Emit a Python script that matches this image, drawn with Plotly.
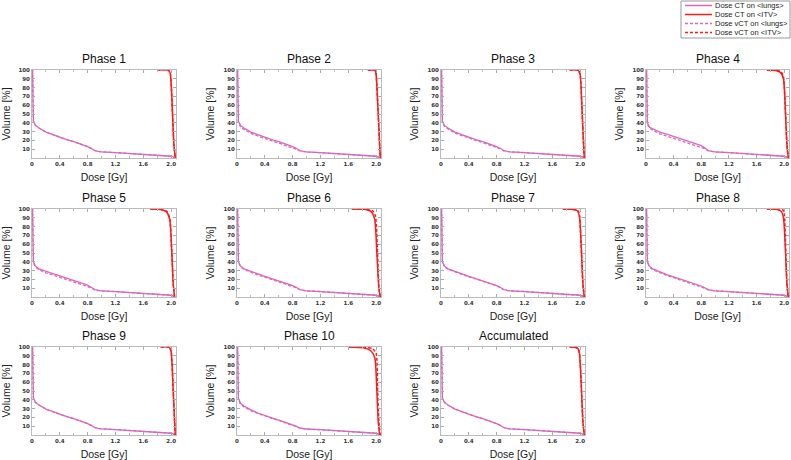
import plotly.graph_objects as go

# ---------------- data ----------------
PANEL_TITLES = ["Phase 1", "Phase 2", "Phase 3", "Phase 4", "Phase 5", "Phase 6",
                "Phase 7", "Phase 8", "Phase 9", "Phase 10", "Accumulated"]
SERIES_NAMES = ["Dose CT on <lungs>", "Dose CT on <ITV>", "Dose vCT on <lungs>", "Dose vCT on <ITV>"]

LUNG_DOSE = [0, 0.008, 0.02, 0.05, 0.1, 0.2, 0.3, 0.4, 0.5, 0.6, 0.7, 0.8,
             0.85, 0.9, 0.95, 1.0, 1.2, 1.4, 1.6, 1.8, 2.0, 2.05]

LUNG_CT_VOL = [
    [100, 100, 42, 37, 34, 29.5, 26.5, 23.5, 21, 18.5, 16, 13, 11, 8.5, 7.5, 7, 6.2, 5.3, 4.5, 3.3, 2, 0.5],
    [100, 100, 42, 37, 34, 29.5, 26.5, 23.5, 21, 18.5, 16, 13, 11, 8.5, 7.5, 7, 6.2, 5.3, 4.5, 3.3, 2, 0.5],
    [100, 100, 42, 37, 34, 29.5, 26.5, 23.5, 21, 18.5, 16, 13, 11, 8.5, 7.5, 7, 6.2, 5.3, 4.5, 3.3, 2, 0.5],
    [100, 100, 40, 35, 33, 29.5, 27, 24.5, 22, 19.5, 17, 14, 11.5, 8.5, 7.5, 7, 6.2, 5.3, 4.5, 3.3, 2, 0.5],
    [100, 100, 40, 35, 32, 29, 26.5, 24, 21.5, 19, 16.5, 13.5, 11, 8.5, 7.5, 7, 6.2, 5.3, 4.5, 3.3, 2, 0.5],
    [100, 100, 40, 35, 32, 29, 26, 23.5, 21, 18.5, 16, 13, 11, 8.5, 7.5, 7, 6.2, 5.3, 4.5, 3.3, 2, 0.5],
    [100, 100, 40, 35, 32, 29, 26, 23.5, 21, 18.5, 16, 13, 11, 8.5, 7.5, 7, 6.2, 5.3, 4.5, 3.3, 2, 0.5],
    [100, 100, 40, 35, 32, 28.5, 25.5, 23, 20.5, 18, 15.5, 12.5, 10.5, 8.5, 7.5, 7, 6.2, 5.3, 4.5, 3.3, 2, 0.5],
    [100, 100, 42, 37, 34, 29.5, 26.5, 23.5, 21, 18.5, 16, 13, 11, 8.5, 7.5, 7, 6.2, 5.3, 4.5, 3.3, 2, 0.5],
    [100, 100, 42, 36, 33, 28.5, 25, 22, 19.5, 17, 14.5, 12, 10, 8, 7.2, 6.8, 6, 5.2, 4.4, 3.2, 2, 0.5],
    [100, 100, 42, 37, 34, 29.5, 26.5, 23.5, 21, 18.5, 16, 13, 11, 8.5, 7.5, 7, 6.2, 5.3, 4.5, 3.3, 2, 0.5],
]

LUNG_VCT_VOL = [
    [100, 100, 42, 37, 34, 29.5, 26.5, 23.5, 21, 18.5, 16, 13, 11, 8.5, 7.5, 7, 6.2, 5.3, 4.5, 3.3, 2, 0.5],
    [100, 100, 41, 35.5, 32.5, 28, 25, 22, 19.5, 17, 14.5, 12, 10, 8, 7.2, 6.8, 6, 5.2, 4.4, 3.2, 2, 0.5],
    [100, 100, 41, 36, 33, 28.5, 25.5, 22.5, 20, 17.5, 15, 12.5, 10.5, 8.2, 7.3, 6.9, 6.1, 5.2, 4.4, 3.2, 2, 0.5],
    [100, 100, 39, 34, 31.5, 27.5, 25, 22.5, 20, 17.5, 15, 12.5, 10.5, 8.2, 7.3, 6.9, 6.1, 5.2, 4.4, 3.2, 2, 0.5],
    [100, 100, 39, 34, 31, 27.5, 25, 22.5, 20, 17.5, 15, 12.5, 10.5, 8.2, 7.3, 6.9, 6.1, 5.2, 4.4, 3.2, 2, 0.5],
    [100, 100, 40, 34.5, 31.5, 28, 25, 22.5, 20, 17.5, 15, 12.5, 10.5, 8.3, 7.4, 7, 6.2, 5.3, 4.5, 3.3, 2, 0.5],
    [100, 100, 40, 34.5, 31.5, 28.5, 25.5, 23, 20.5, 18, 15.5, 12.8, 10.8, 8.4, 7.5, 7, 6.2, 5.3, 4.5, 3.3, 2, 0.5],
    [100, 100, 39.5, 34, 31, 27.5, 24.5, 22, 19.5, 17, 14.5, 12, 10, 8.2, 7.3, 6.9, 6.1, 5.2, 4.4, 3.2, 2, 0.5],
    [100, 100, 42, 37, 34, 29.5, 26.5, 23.5, 21, 18.5, 16, 13, 11, 8.5, 7.5, 7, 6.2, 5.3, 4.5, 3.3, 2, 0.5],
    [100, 100, 41, 35, 32, 27.5, 24.5, 21.5, 19, 16.5, 14, 11.5, 9.5, 7.8, 7, 6.7, 5.9, 5.1, 4.3, 3.1, 2, 0.5],
    [100, 100, 42, 37, 34, 29.5, 26.5, 23.5, 21, 18.5, 16, 13, 11, 8.5, 7.5, 7, 6.2, 5.3, 4.5, 3.3, 2, 0.5],
]

ITV_CT_DOSE = [
    [1.80, 1.95, 1.97, 1.99, 2.02, 2.04, 2.06],
    [1.88, 1.97, 1.99, 2.00, 2.03, 2.05, 2.06],
    [1.85, 1.96, 1.98, 2.00, 2.03, 2.05, 2.06],
    [1.75, 1.88, 1.95, 1.99, 2.02, 2.04, 2.06],
    [1.70, 1.85, 1.93, 1.98, 2.01, 2.03, 2.05],
    [1.65, 1.85, 1.93, 1.98, 2.01, 2.04, 2.06],
    [1.75, 1.90, 1.96, 1.99, 2.02, 2.04, 2.06],
    [1.75, 1.90, 1.96, 1.99, 2.02, 2.04, 2.06],
    [1.85, 1.96, 1.98, 2.00, 2.03, 2.05, 2.06],
    [1.60, 1.82, 1.92, 1.98, 2.01, 2.03, 2.05],
    [1.85, 1.94, 1.97, 1.99, 2.02, 2.04, 2.06],
]
ITV_CT_VOL = [
    [100, 100, 99, 95, 50, 15, 0],
    [100, 100, 99, 95, 50, 15, 0],
    [100, 100, 99, 95, 50, 15, 0],
    [100, 99.5, 97, 90, 50, 15, 0],
    [100, 99.5, 97, 88, 50, 15, 0],
    [100, 99.5, 97, 88, 50, 10, 0],
    [100, 99.5, 98, 92, 50, 15, 0],
    [100, 99.5, 97, 90, 50, 15, 0],
    [100, 100, 99, 95, 50, 15, 0],
    [100, 99, 96, 88, 50, 15, 0],
    [100, 99.5, 98, 93, 50, 15, 0],
]
ITV_VCT_DOSE = [
    [1.80, 1.95, 1.97, 1.99, 2.02, 2.04, 2.06],
    [1.88, 1.97, 1.99, 2.00, 2.03, 2.05, 2.06],
    [1.85, 1.96, 1.98, 2.00, 2.03, 2.05, 2.06],
    [1.75, 1.90, 1.96, 1.99, 2.02, 2.04, 2.06],
    [1.70, 1.86, 1.94, 1.98, 2.01, 2.03, 2.05],
    [1.65, 1.87, 1.95, 1.99, 2.02, 2.04, 2.06],
    [1.75, 1.91, 1.97, 1.99, 2.02, 2.04, 2.06],
    [1.75, 1.93, 1.98, 2.00, 2.02, 2.04, 2.06],
    [1.85, 1.96, 1.98, 2.00, 2.03, 2.05, 2.06],
    [1.60, 1.86, 1.95, 2.00, 2.02, 2.04, 2.06],
    [1.85, 1.94, 1.97, 1.99, 2.02, 2.04, 2.06],
]
ITV_VCT_VOL = [
    [100, 100, 99, 95, 50, 15, 0],
    [100, 100, 99, 95, 50, 15, 0],
    [100, 100, 99, 95, 50, 15, 0],
    [100, 99.5, 98, 92, 50, 15, 0],
    [100, 99.5, 97, 89, 50, 15, 0],
    [100, 99.5, 98, 92, 50, 10, 0],
    [100, 99.5, 98, 93, 50, 15, 0],
    [100, 99.8, 99, 96, 60, 15, 0],
    [100, 100, 99, 95, 50, 15, 0],
    [100, 99.5, 98, 93, 55, 15, 0],
    [100, 99.5, 98, 93, 50, 15, 0],
]

X_TICKS = [0, 0.4, 0.8, 1.2, 1.6, 2.0]
X_TICK_LABELS = ["0", "0.4", "0.8", "1.2", "1.6", "2.0"]
Y_TICKS = [10, 20, 30, 40, 50, 60, 70, 80, 90, 100]

# ---------------- layout ----------------
W, H = 791, 460
COLS_PX = [(32, 176), (237, 381), (441, 585), (646, 789)]
ROWS_PX = [(70, 158), (209, 297), (347, 435)]
PINK = "#DA66BE"
RED = "#FF1A1A"
FONT = "Liberation Sans, Arial, sans-serif"
STYLES = [(PINK, None), (RED, None), (PINK, "3px,2px"), (RED, "3px,2px")]

fig = go.Figure()
layout = dict(
    width=W, height=H, margin=dict(l=0, r=0, t=0, b=0, autoexpand=False),
    paper_bgcolor="white", plot_bgcolor="white",
    font=dict(family=FONT, color="#222"),
    showlegend=False,
)
annotations = []
shapes = []

for i, title in enumerate(PANEL_TITLES):
    r, c = divmod(i, 4)
    x0, x1 = COLS_PX[c]
    y0, y1 = ROWS_PX[r]
    ax = "" if i == 0 else str(i + 1)
    xa, ya = "x" + ax, "y" + ax
    curves = [(LUNG_DOSE, LUNG_CT_VOL[i]), (ITV_CT_DOSE[i], ITV_CT_VOL[i]),
              (LUNG_DOSE, LUNG_VCT_VOL[i]), (ITV_VCT_DOSE[i], ITV_VCT_VOL[i])]
    for k, (xs, ys) in enumerate(curves):
        color, dash = STYLES[k]
        is_itv = k in (1, 3)
        fig.add_trace(go.Scatter(
            x=xs, y=ys, mode="lines", xaxis=xa, yaxis=ya, name=SERIES_NAMES[k],
            line=dict(color=color, width=1.5 if is_itv else 1.3, dash=dash,
                      shape="spline" if is_itv else "linear", smoothing=0.6 if is_itv else None)))

    layout["xaxis" + ax] = dict(
        domain=[x0 / W, x1 / W], anchor=ya, range=[0, 2.07], automargin=False,
        tickvals=X_TICKS, ticktext=X_TICK_LABELS,
        tickfont=dict(size=5.5, family="DejaVu Sans", color="#333", weight="bold"),
        ticks="inside", ticklen=3, tickcolor="#aaa", mirror="ticks",
        showline=True, linecolor="#bbb", linewidth=1, showgrid=False, zeroline=False,
        minor=dict(dtick=0.2, ticks="inside", ticklen=2, tickcolor="#bbb", showgrid=False),
        title=dict(text="Dose [Gy]", font=dict(size=10.5, family=FONT, color="#222"), standoff=8),
    )
    layout["yaxis" + ax] = dict(
        domain=[1 - y1 / H, 1 - y0 / H], anchor=xa, range=[0, 100], automargin=False,
        tickvals=Y_TICKS,
        tickfont=dict(size=5.5, family="DejaVu Sans", color="#333", weight="bold"),
        ticks="inside", ticklen=3, tickcolor="#aaa", mirror="ticks",
        showline=True, linecolor="#bbb", linewidth=1, showgrid=False, zeroline=False,
        title=dict(text="Volume [%]", font=dict(size=10.5, family=FONT, color="#222"), standoff=6),
    )
    annotations.append(dict(text=title, x=(x0 + x1) / 2 / W, y=1 - (y0 - 2) / H,
                            xref="paper", yref="paper", xanchor="center", yanchor="bottom",
                            showarrow=False, font=dict(size=12, family=FONT, color="#111")))

# legend (drawn as box + sample lines + labels)
LX0, LX1, LY0, LY1 = 681, 790, 1, 38
shapes.append(dict(type="rect", xref="paper", yref="paper", x0=LX0 / W, x1=LX1 / W,
                   y0=1 - LY1 / H, y1=1 - LY0 / H, line=dict(color="#999", width=1),
                   fillcolor="white", layer="above"))
for k, name in enumerate(SERIES_NAMES):
    color, dash = STYLES[k]
    yy = 1 - (5.5 + 9 * k) / H
    shapes.append(dict(type="line", xref="paper", yref="paper", x0=685 / W, x1=712 / W,
                       y0=yy, y1=yy, line=dict(color=color, width=1.5, dash=dash or "solid"),
                       layer="above"))
    annotations.append(dict(text=name.replace("<", "&lt;").replace(">", "&gt;"),
                            x=713 / W, y=yy, xref="paper", yref="paper",
                            xanchor="left", yanchor="middle", showarrow=False,
                            font=dict(size=7.5, family=FONT, color="#222")))

layout["annotations"] = annotations
layout["shapes"] = shapes
fig.update_layout(**layout)
fig.write_html(
    "out.html",
    config={"displayModeBar": False},
    post_script="document.body.style.margin='0';document.body.style.padding='0';"
                "document.documentElement.style.overflow='hidden';",
)
